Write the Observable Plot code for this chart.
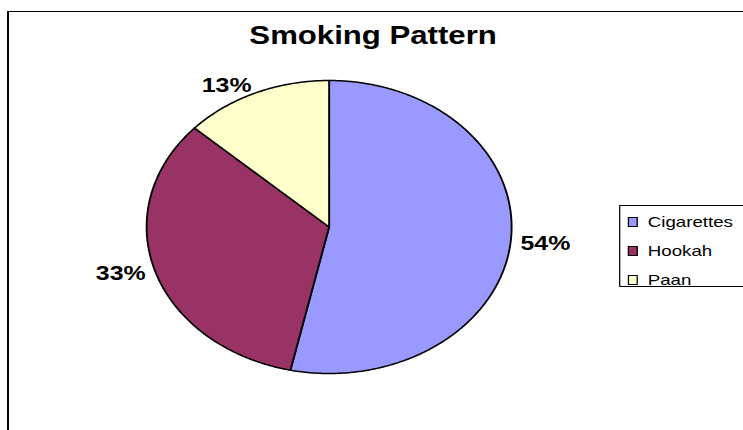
<!DOCTYPE html>
<html>
<head>
<meta charset="utf-8">
<script src="https://cdn.jsdelivr.net/npm/d3@7"></script>
<script src="https://cdn.jsdelivr.net/npm/@observablehq/plot@0.6"></script>
<style>
  html, body { margin: 0; padding: 0; background: #fff; overflow: hidden; }
  body { width: 743px; height: 430px; position: relative; font-family: "Liberation Sans", Arial, sans-serif; }
  #stage { position: absolute; left: 0; top: 0; width: 597px; height: 430px; transform-origin: 0 0; }
  #stage svg { position: absolute; left: 0; top: 0; background: transparent; }
  #title { position: absolute; left: 0; top: 23px; width: 599px; text-align: center; font-size: 25px; font-weight: bold; line-height: 25px; color: #000; }
  #legend { position: absolute; left: 497px; top: 205px; width: 130px; height: 82px; box-sizing: border-box; border: 1px solid #000; background: #fff; padding-top: 1px; }
  .row { height: 29px; line-height: 29px; font-size: 15px; color: #000; white-space: nowrap; display: flex; align-items: center; }
  .sw { width: 6px; height: 8px; border: 1px solid #000; margin-left: 6px; margin-right: 8px; flex: none; }
  #frame { position: absolute; left: 7px; top: 11px; width: 800px; height: 500px; border-left: 2px solid #000; border-top: 1px solid #000; pointer-events: none; }
</style>
</head>
<body>
<div id="stage"></div>
<div id="frame"></div>
<script>
// ---- data ----
const chartTitle = "Smoking Pattern";
const categories = ["Cigarettes", "Hookah", "Paan"];
const values = [53.4, 33.4, 13.2];
const valueLabels = ["54%", "33%", "13%"];

// ---- styles / layout ----
const COLORS = ["#9999FF", "#993366", "#FFFFCC"];
const STRETCH = 1.2457;
const W = 597, H = 430;
const CX = 263.7, CY = 226.5, R = 146.5, GAP = 8;

const stage = document.getElementById("stage");
stage.style.transform = `scaleX(${STRETCH})`;

// pie geometry in unit coordinates (clockwise from 12 o'clock)
const total = d3.sum(values);
const slicePts = [];
const labelPts = [];
let cum = 0;
categories.forEach((name, i) => {
  const a0 = cum / total * 2 * Math.PI;
  const a1 = (cum + values[i]) / total * 2 * Math.PI;
  cum += values[i];
  slicePts.push({name, x: 0, y: 0});
  const n = Math.max(2, Math.ceil((a1 - a0) / (Math.PI / 360)));
  for (let k = 0; k <= n; k++) {
    const a = a0 + (a1 - a0) * k / n;
    slicePts.push({name, x: Math.sin(a), y: -Math.cos(a)});
  }
  const mid = (a0 + a1) / 2;
  const f = 1 + GAP / R;
  labelPts.push({name, text: valueLabels[i], x: Math.sin(mid) * f, y: -Math.cos(mid) * f});
});

const textOpts = {x: "x", y: "y", text: "text", lineAnchor: "middle", fontSize: 20, fontWeight: "bold", fill: "black"};

const chart = Plot.plot({
  width: W,
  height: H,
  margin: 0,
  style: {background: "transparent", fontFamily: "'Liberation Sans', Arial, sans-serif", overflow: "visible"},
  x: {domain: [-1, 1], range: [CX - R, CX + R], axis: null},
  y: {domain: [-1, 1], range: [CY - R, CY + R], axis: null},
  color: {domain: categories, range: COLORS},
  marks: [
    Plot.line(slicePts, {x: "x", y: "y", z: "name", fill: "name", stroke: "black", strokeWidth: 1.5, strokeLinejoin: "round", curve: "linear-closed"}),
    Plot.text(labelPts.filter(d => d.x >= 0), {...textOpts, textAnchor: "start"}),
    Plot.text(labelPts.filter(d => d.x < 0), {...textOpts, textAnchor: "end"})
  ]
});
stage.appendChild(chart);

const t = document.createElement("div");
t.id = "title";
t.textContent = chartTitle;
stage.appendChild(t);

const lg = document.createElement("div");
lg.id = "legend";
categories.forEach((name, i) => {
  const row = document.createElement("div");
  row.className = "row";
  const sw = document.createElement("span");
  sw.className = "sw";
  sw.style.background = COLORS[i];
  const tx = document.createElement("span");
  tx.textContent = name;
  row.appendChild(sw);
  row.appendChild(tx);
  lg.appendChild(row);
});
stage.appendChild(lg);
</script>
</body>
</html>
